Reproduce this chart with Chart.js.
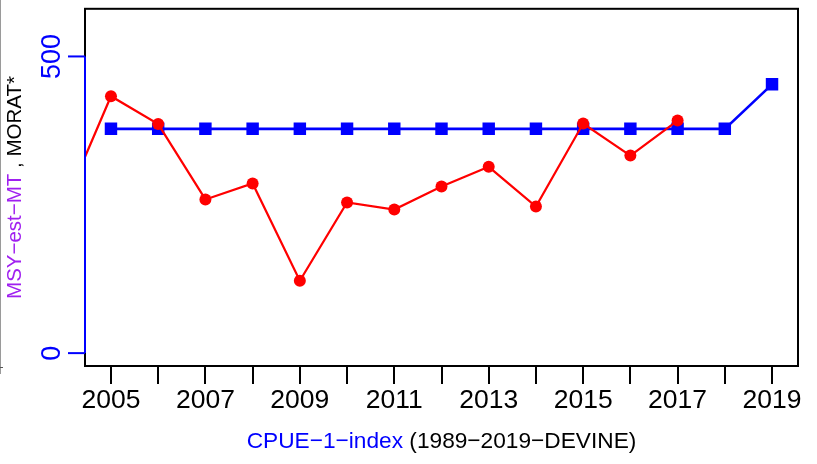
<!DOCTYPE html>
<html>
<head>
<meta charset="utf-8">
<script src="https://cdn.jsdelivr.net/npm/chart.js@4/dist/chart.umd.min.js"></script>
<style>
  html, body { margin: 0; padding: 0; background: #ffffff; }
  #wrap { position: relative; width: 817px; height: 464px; }
  canvas { display: block; }
</style>
</head>
<body>
<div id="wrap"><canvas id="c" width="817" height="464"></canvas></div>
<script>
// Years on the x axis
const years = [2004, 2005, 2006, 2007, 2008, 2009, 2010, 2011, 2012, 2013, 2014, 2015, 2016, 2017, 2018, 2019];
const tickYears = [2005, 2006, 2007, 2008, 2009, 2010, 2011, 2012, 2013, 2014, 2015, 2016, 2017, 2018, 2019];

// MORAT* series (red), 2004-2017
const moratYears = [2004, 2005, 2006, 2007, 2008, 2009, 2010, 2011, 2012, 2013, 2014, 2015, 2016, 2017];
const moratValues = [247, 433, 386, 259, 286, 122, 254, 242, 281, 314, 247, 387, 333, 392];

// MSY estimate series (blue), 2005-2019
const msyYears = [2005, 2006, 2007, 2008, 2009, 2010, 2011, 2012, 2013, 2014, 2015, 2016, 2017, 2018, 2019];
const msyValues = [378, 378, 378, 378, 378, 378, 378, 378, 378, 378, 378, 378, 378, 378, 453];

// Left axis ticks
const yTicks = [0, 500];

const FONT = '"Liberation Sans", Arial, Helvetica, sans-serif';
const BLUE = '#0000ff';
const RED = '#ff0000';
const PURPLE = '#a020f0';

const toPoints = (xs, ys) => xs.map((x, i) => ({ x: x, y: ys[i] }));

// Frame, left axis, titles and the thin border line on the far left
const decorations = {
  id: 'decorations',
  afterDatasetsDraw(chart) {
    const ctx = chart.ctx;
    const a = chart.chartArea;
    const ys = chart.scales.y;
    ctx.save();

    // faint outer border on the left
    ctx.strokeStyle = '#9a9a9a';
    ctx.lineWidth = 1;
    ctx.beginPath();
    ctx.moveTo(0.5, 0);
    ctx.lineTo(0.5, 374);
    ctx.stroke();
    ctx.strokeStyle = '#555555';
    ctx.beginPath();
    ctx.moveTo(0, 367.5);
    ctx.lineTo(3, 367.5);
    ctx.stroke();

    // plot frame
    ctx.strokeStyle = '#000000';
    ctx.lineWidth = 2;
    ctx.strokeRect(a.left, a.top, a.right - a.left, a.bottom - a.top);

    // left axis in blue
    const y0 = ys.getPixelForValue(yTicks[0]);
    const y1 = ys.getPixelForValue(yTicks[yTicks.length - 1]);
    ctx.strokeStyle = BLUE;
    ctx.lineWidth = 2;
    ctx.beginPath();
    ctx.moveTo(a.left, y0);
    ctx.lineTo(a.left, y1);
    ctx.stroke();
    ctx.fillStyle = BLUE;
    ctx.font = '27px ' + FONT;
    ctx.textAlign = 'center';
    ctx.textBaseline = 'middle';
    yTicks.forEach(v => {
      const py = ys.getPixelForValue(v);
      ctx.beginPath();
      ctx.moveTo(a.left, py);
      ctx.lineTo(a.left - 17, py);
      ctx.stroke();
      ctx.save();
      ctx.translate(53, py);
      ctx.rotate(-Math.PI / 2);
      ctx.fillText(String(v), 0, 0);
      ctx.restore();
    });

    // two-colour text centred on (cx, cy)
    const drawParts = (parts, cx, cy) => {
      const widths = parts.map(p => ctx.measureText(p.text).width);
      const total = widths.reduce((s, w) => s + w, 0);
      let x = cx - total / 2;
      ctx.textAlign = 'left';
      parts.forEach((p, i) => {
        ctx.fillStyle = p.color;
        ctx.fillText(p.text, x, cy);
        x += widths[i];
      });
    };

    // x axis title
    ctx.textBaseline = 'middle';
    ctx.font = '22.7px ' + FONT;
    drawParts([
      { text: 'CPUE\u22121\u2212index', color: BLUE },
      { text: ' (1989\u22122019\u2212DEVINE)', color: '#000000' }
    ], (a.left + a.right) / 2, 442);

    // y axis title, rotated
    ctx.save();
    ctx.translate(15, 187.5);
    ctx.rotate(-Math.PI / 2);
    ctx.font = '20.5px ' + FONT;
    drawParts([
      { text: 'MSY\u2212est\u2212MT', color: PURPLE },
      { text: ' , MORAT*', color: '#000000' }
    ], 0, 0);
    ctx.restore();

    ctx.restore();
  }
};

new Chart(document.getElementById('c'), {
  type: 'line',
  data: {
    datasets: [
      {
        label: 'MORAT*',
        data: toPoints(moratYears, moratValues),
        borderColor: RED,
        backgroundColor: RED,
        borderWidth: 2.2,
        pointStyle: 'circle',
        pointRadius: 6,
        pointBorderWidth: 0,
        pointBackgroundColor: RED,
        tension: 0,
        order: 0
      },
      {
        label: 'MSY-est-MT',
        data: toPoints(msyYears, msyValues),
        borderColor: BLUE,
        backgroundColor: BLUE,
        borderWidth: 2.6,
        pointStyle: 'rect',
        pointRadius: 8.8,
        pointBorderWidth: 0,
        pointBackgroundColor: BLUE,
        tension: 0,
        order: 1
      }
    ]
  },
  options: {
    responsive: false,
    devicePixelRatio: 1,
    animation: false,
    events: [],
    layout: { padding: { left: 85, right: 19, top: 6, bottom: 0 } },
    plugins: {
      legend: { display: false },
      tooltip: { enabled: false }
    },
    scales: {
      x: {
        type: 'linear',
        position: 'bottom',
        min: 2004.45,
        max: 2019.55,
        afterFit: s => { s.height = 98; },
        afterBuildTicks: s => { s.ticks = tickYears.map(v => ({ value: v })); },
        border: { display: false },
        grid: {
          display: true,
          drawOnChartArea: false,
          drawTicks: true,
          tickLength: 18,
          color: '#000000',
          lineWidth: 2
        },
        ticks: {
          autoSkip: false,
          minRotation: 0,
          maxRotation: 0,
          padding: 1,
          color: '#000000',
          font: { family: FONT, size: 26.5 },
          callback: v => (v % 2 === 1 ? String(v) : '')
        }
      },
      y: {
        type: 'linear',
        display: false,
        min: -21.7,
        max: 580.3
      }
    }
  },
  plugins: [decorations]
});
</script>
</body>
</html>
